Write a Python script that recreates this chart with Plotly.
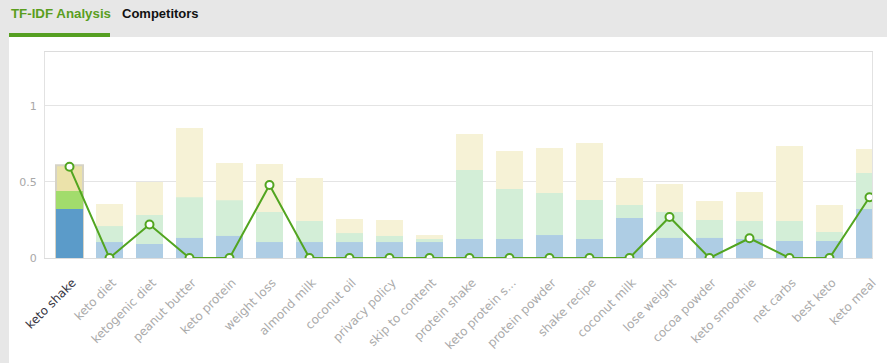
import plotly.graph_objects as go

categories = ["keto shake", "keto diet", "ketogenic diet", "peanut butter", "keto protein",
              "weight loss", "almond milk", "coconut oil", "privacy policy", "skip to content",
              "protein shake", "keto protein s...", "protein powder", "shake recipe", "coconut milk",
              "lose weight", "cocoa powder", "keto smoothie", "net carbs", "best keto", "keto meal"]

# overlapping (non-grouped) series: low / mid / high
low_vals = [0.322, 0.105, 0.092, 0.132, 0.145, 0.105, 0.105, 0.105, 0.105, 0.105, 0.125,
            0.125, 0.151, 0.125, 0.263, 0.132, 0.132, 0.125, 0.112, 0.112, 0.322]
mid_vals = [0.44, 0.21, 0.283, 0.40, 0.38, 0.303, 0.243, 0.164, 0.145, 0.125, 0.579,
            0.454, 0.428, 0.382, 0.349, 0.303, 0.25, 0.243, 0.243, 0.171, 0.559]
high_vals = [0.61, 0.355, 0.50, 0.855, 0.625, 0.618, 0.526, 0.257, 0.25, 0.151, 0.816,
             0.704, 0.724, 0.757, 0.526, 0.487, 0.375, 0.434, 0.737, 0.349, 0.717]
own_vals = [0.60, 0, 0.22, 0, 0, 0.48, 0, 0, 0, 0, 0, 0, 0, 0, 0, 0.27, 0, 0.13, 0, 0, 0.40]

y_ticks = [0, 0.5, 1]
y_tick_labels = ["0", "0.5", "1"]

n = len(categories)
sel = 0
def colors(sel_c, c):
    return [sel_c if i == sel else c for i in range(n)]

fig = go.Figure()
fig.add_trace(go.Bar(x=categories, y=high_vals, width=0.675,
                     marker=dict(color=colors("#ebe2aa", "#f6f2d6"),
                                 line=dict(color=colors("#d6d3c6", "rgba(0,0,0,0)"), width=2))))
fig.add_trace(go.Bar(x=categories, y=mid_vals, width=0.675,
                     marker=dict(color=colors("#a2dc6c", "#d3eed7"), line=dict(width=0))))
fig.add_trace(go.Bar(x=categories, y=low_vals, width=0.675,
                     marker=dict(color=colors("#5b9bc9", "#aecde4"), line=dict(width=0))))
fig.add_trace(go.Scatter(x=categories, y=own_vals, mode="lines+markers",
                         line=dict(color="#52a520", width=2),
                         marker=dict(size=8, color="white", line=dict(color="#52a520", width=2))))

W, H = 887, 363
L, R, T, B = 45, 15, 52, 105
pw, ph = W - L - R, H - T - B
def px(x):
    return (x - L) / pw
def py(y):
    return (H - B - y) / ph

ticktext = [f'<span style="color:#34343f">{c}</span>' if i == sel else c
            for i, c in enumerate(categories)]

fig.update_layout(
    template="none",
    width=W, height=H, autosize=False,
    margin=dict(l=L, r=R, t=T, b=B, pad=0),
    barmode="overlay", showlegend=False, hovermode=False,
    paper_bgcolor="#e7e7e7", plot_bgcolor="rgba(0,0,0,0)",
    font=dict(family="DejaVu Sans", color="#aaaaaa"),
    xaxis=dict(type="category", range=[-0.6125, 20.0625], tickmode="array",
               tickvals=categories, ticktext=ticktext, tickangle=-45, automargin=False,
               tickfont=dict(size=12, color="#aaaaaa", family="DejaVu Sans"),
               showgrid=False, showline=True, linecolor="#dcdcdc", linewidth=1,
               mirror=True, ticks="", zeroline=False,
               ticklabelstandoff=12, ticklabelshift=3),
    yaxis=dict(range=[0, 1.355], tickmode="array", tickvals=y_ticks, ticktext=y_tick_labels,
               automargin=False,
               tickfont=dict(size=11, color="#a8a8a8", family="DejaVu Sans"),
               showgrid=True, gridcolor="#e4e4e4", gridwidth=1,
               showline=True, linecolor="#e2e2e2", linewidth=1, mirror=True,
               ticks="", zeroline=False, ticklabelstandoff=5),
    shapes=[
        dict(type="rect", xref="paper", yref="paper", layer="below",
             x0=px(9), x1=px(W + 5), y0=py(H + 5), y1=py(37),
             fillcolor="white", line=dict(width=0)),
        dict(type="rect", xref="paper", yref="paper", layer="below",
             x0=px(9), x1=px(110), y0=py(37), y1=py(33),
             fillcolor="#559f21", line=dict(width=0)),
    ],
    annotations=[
        dict(text="<b>TF-IDF Analysis</b>", xref="paper", yref="paper",
             x=px(9), y=py(13), xanchor="left", yanchor="middle", showarrow=False,
             font=dict(family="Liberation Sans", size=13.3, color="#5a9e1e")),
        dict(text="<b>Competitors</b>", xref="paper", yref="paper",
             x=px(120), y=py(13), xanchor="left", yanchor="middle", showarrow=False,
             font=dict(family="Liberation Sans", size=13, color="#111111")),
    ],
)

fig.write_html("out.html", config={"displayModeBar": False, "staticPlot": True},
               post_script="document.body.style.margin='0px';document.body.style.overflow='hidden';")
